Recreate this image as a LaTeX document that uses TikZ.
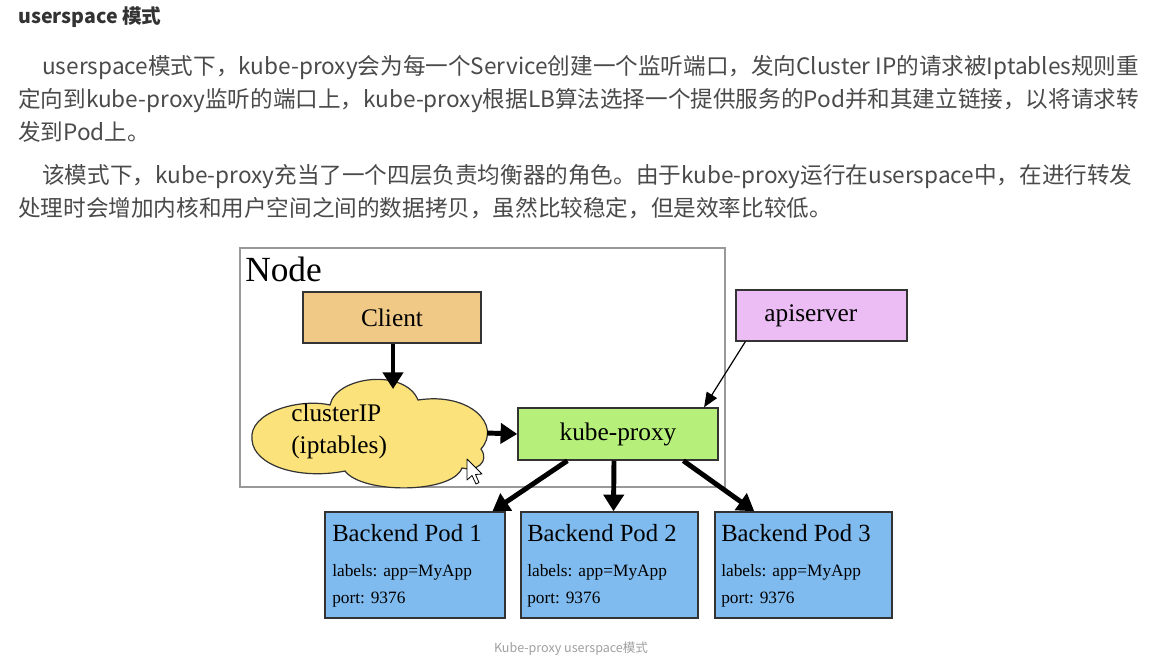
\documentclass[tikz,border=0pt]{standalone}
\usepackage{fontspec}
\setmainfont{Liberation Serif}
\newfontfamily\cjk{Noto Sans CJK SC}
\usetikzlibrary{arrows.meta}
\definecolor{txt}{HTML}{4A4A4A}
\definecolor{ttl}{HTML}{333333}
\definecolor{cap}{HTML}{A0A0A0}
\definecolor{clientc}{HTML}{F0C987}
\definecolor{cloudc}{HTML}{FBE27A}
\definecolor{proxyc}{HTML}{B6F07A}
\definecolor{apic}{HTML}{EBBDF4}
\definecolor{podc}{HTML}{80BBEF}
\definecolor{bordc}{HTML}{333333}
\tikzset{
  para/.style={anchor=base west, inner sep=0pt, text=txt, font=\cjk\fontsize{16.95}{20}\selectfont},
  box/.style={draw=bordc, line width=1.1pt, inner sep=0pt, font=\fontsize{19}{22}\selectfont},
  podtxt/.style={anchor=base west, inner sep=0pt},
  thick arrow/.style={line width=3.7pt, -{Triangle[length=12.5pt,width=15pt]}},
  thin arrow/.style={line width=0.9pt, -{Triangle[length=11pt,width=9pt]}},
}
\begin{document}
\begin{tikzpicture}[x=0.75pt,y=-0.75pt]
\useasboundingbox[fill=white] (0,0) rectangle (1176,665);
% title and text
\node[anchor=base west, inner sep=0pt, text=ttl, font=\cjk\bfseries\fontsize{14.7}{17}\selectfont] (title) at (18,23) {userspace 模式};
\node[para] (l1) at (42,74) {userspace模式下，kube-proxy会为每一个Service创建一个监听端口，发向Cluster IP的请求被Iptables规则重};
\node[para] (l2) at (18,107) {定向到kube-proxy监听的端口上，kube-proxy根据LB算法选择一个提供服务的Pod并和其建立链接，以将请求转};
\node[para] (l3) at (18,140) {发到Pod上。};
\node[para] (l4) at (42,183) {该模式下，kube-proxy充当了一个四层负责均衡器的角色。由于kube-proxy运行在userspace中，在进行转发};
\node[para] (l5) at (18,216) {处理时会增加内核和用户空间之间的数据拷贝，虽然比较稳定，但是效率比较低。};
% Node frame
\draw[draw=gray!80, line width=0.8pt] (240,248) rectangle (725,487);
\node[anchor=base west, inner sep=0pt, font=\fontsize{26.5}{30}\selectfont] (nodelbl) at (245,281) {Node};
% boxes
\node[box, fill=clientc, minimum width=133.5pt, minimum height=38.25pt] (client) at (392,317.5) {Client};
\node[box, fill=proxyc, minimum width=150pt, minimum height=39pt] (proxy) at (618,434) {kube-proxy};
\node[box, fill=apic, minimum width=128.25pt, minimum height=38.25pt] (api) at (821.5,315.5) {\hspace*{-16pt}apiserver};
% cloud
\draw[draw=bordc, line width=0.9pt, fill=cloudc]
  (252,440) .. controls (248,412) and (300,398) .. (330,405)
  .. controls (336,376) and (405,368) .. (418,400)
  .. controls (470,392) and (502,425) .. (481,449)
  .. controls (490,462) and (476,472) .. (462,468)
  .. controls (452,494) and (362,494) .. (345,471)
  .. controls (300,480) and (254,466) .. (252,440) -- cycle;
\node[anchor=base west, inner sep=0pt, font=\fontsize{19}{22}\selectfont] (cloud1) at (291,421) {clusterIP};
\node[anchor=base west, inner sep=0pt, font=\fontsize{19}{22}\selectfont] (cloud2) at (291,453) {(iptables)};
\coordinate (cloudtop) at (393,389);
\coordinate (cloudright) at (487,433);
% pods
\node[box, fill=podc, minimum width=135pt, minimum height=79.5pt] (pod1) at (415,565) {};
\node[box, fill=podc, minimum width=132.75pt, minimum height=79.5pt] (pod2) at (609.5,565) {};
\node[box, fill=podc, minimum width=132.75pt, minimum height=79.5pt] (pod3) at (803.5,565) {};
\foreach \p/\x/\n in {pod1/332/1, pod2/527/2, pod3/721/3}{
  \node[podtxt, font=\fontsize{18.5}{22}\selectfont] (\p t) at (\x,541) {Backend Pod \n};
  \node[podtxt, font=\fontsize{13}{16}\selectfont] (\p l) at (\x,576) {labels: app=MyApp};
  \node[podtxt, font=\fontsize{13}{16}\selectfont] (\p p) at (\x,603) {port: 9376};
}
% arrows
\draw[thick arrow] (client.south -| cloudtop) -- (cloudtop);
\draw[thick arrow] (cloudright) -- (proxy.west);
\draw[thin arrow] ([xshift=7.5pt]api.south west) -- ([xshift=-11pt]proxy.north east);
\draw[thick arrow] ([xshift=-38pt]proxy.south) -- ([xshift=-10pt]pod1.north east);
\draw[thick arrow] ([xshift=-3pt]proxy.south) -- ([xshift=3pt]pod2.north);
\draw[thick arrow] ([xshift=49pt]proxy.south) -- ([xshift=30pt]pod3.north west);
% cursor
\draw[fill=white, line width=0.6pt, line join=round] (467,459) -- (467,480) -- (472,475.5) -- (476,484) -- (479,482.5) -- (475.5,474.5) -- (482,474) -- cycle;
% caption
\node[inner sep=0pt, text=cap, font=\cjk\fontsize{9.4}{11}\selectfont] (caption) at (571,649) {Kube-proxy userspace模式};
\end{tikzpicture}
\end{document}
